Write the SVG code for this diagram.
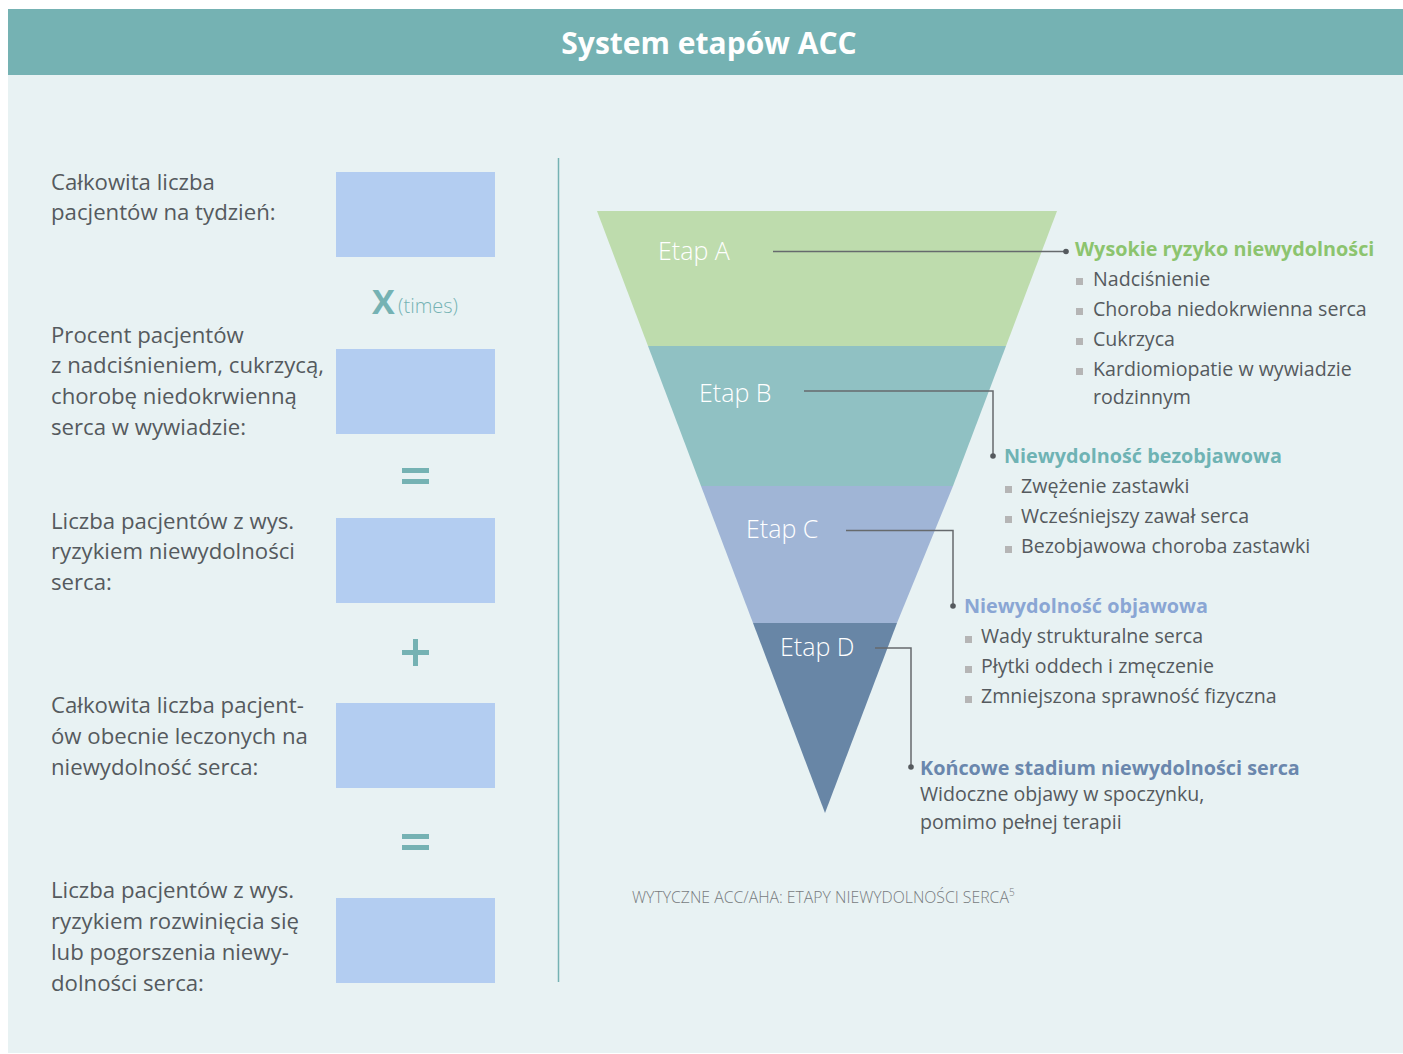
<svg xmlns="http://www.w3.org/2000/svg" width="1403" height="1054" viewBox="0 0 1403 1054">
<style>
.lt{font-family:"Open Sans","Liberation Sans",sans-serif;font-size:22.2px;fill:#555a5e}
.rt{font-family:"Open Sans","Liberation Sans",sans-serif;font-size:19.6px;fill:#555a5e}
.hd{font-family:"Open Sans","Liberation Sans",sans-serif;font-size:19.8px;font-weight:700}
.et{font-family:"Open Sans","Liberation Sans",sans-serif;font-size:25px;font-weight:300;fill:#ffffff}
.box{fill:#b3cdf1}
.op{fill:#75b2b3}
.bul{fill:#b5b5b5}
.con{fill:none;stroke:#666a6d;stroke-width:1.5}
.dot{fill:#555a5e}
</style>
<rect x="0" y="0" width="1403" height="1054" fill="#ffffff"/>
<rect x="8" y="75" width="1395" height="978" fill="#e8f2f3"/>
<rect x="8" y="9" width="1395" height="66" fill="#75b2b3"/>
<text x="709" y="54" text-anchor="middle" font-family="'Open Sans','Liberation Sans',sans-serif" font-size="30" font-weight="700" fill="#ffffff">System etapów ACC</text>

<g id="left-column">
<g id="row1"><text class="lt"><tspan x="51" y="190">Całkowita liczba</tspan><tspan x="51" y="220">pacjentów na tydzień:</tspan></text><rect class="box" x="336" y="172" width="159" height="85"/></g>
<g id="op-times"><text x="372" y="314" font-family="'Open Sans','Liberation Sans',sans-serif" font-size="34" font-weight="700" fill="#75b2b3">X</text><text x="398" y="313" font-family="'Open Sans','Liberation Sans',sans-serif" font-size="20" font-weight="300" fill="#75b2b3">(times)</text></g>
<g id="row2"><text class="lt"><tspan x="51" y="343">Procent pacjentów</tspan><tspan x="51" y="373">z nadciśnieniem, cukrzycą,</tspan><tspan x="51" y="404">chorobę niedokrwienną</tspan><tspan x="51" y="435">serca w wywiadzie:</tspan></text><rect class="box" x="336" y="349" width="159" height="85"/></g>
<g id="op-eq1"><rect class="op" x="402" y="468" width="27" height="5"/><rect class="op" x="402" y="479" width="27" height="5"/></g>
<g id="row3"><text class="lt"><tspan x="51" y="529">Liczba pacjentów z wys.</tspan><tspan x="51" y="559">ryzykiem niewydolności</tspan><tspan x="51" y="590">serca:</tspan></text><rect class="box" x="336" y="518" width="159" height="85"/></g>
<g id="op-plus"><rect class="op" x="402" y="650" width="27" height="5"/><rect class="op" x="413" y="639" width="5" height="27"/></g>
<g id="row4"><text class="lt"><tspan x="51" y="713">Całkowita liczba pacjent-</tspan><tspan x="51" y="744">ów obecnie leczonych na</tspan><tspan x="51" y="775">niewydolność serca:</tspan></text><rect class="box" x="336" y="703" width="159" height="85"/></g>
<g id="op-eq2"><rect class="op" x="402" y="834" width="27" height="5"/><rect class="op" x="402" y="845" width="27" height="5"/></g>
<g id="row5"><text class="lt"><tspan x="51" y="898">Liczba pacjentów z wys.</tspan><tspan x="51" y="929">ryzykiem rozwinięcia się</tspan><tspan x="51" y="960">lub pogorszenia niewy-</tspan><tspan x="51" y="991">dolności serca:</tspan></text><rect class="box" x="336" y="898" width="159" height="85"/></g>
</g>
<line x1="558.5" y1="158" x2="558.5" y2="982" stroke="#75b2b3" stroke-width="1.5"/>

<g id="funnel">
<g id="stage-a"><polygon points="597,211 1057,211 1006,346 648,346" fill="#bedcad"/><text class="et" x="658" y="260">Etap A</text></g>
<g id="stage-b"><polygon points="648,346 1006,346 953,486 701,486" fill="#90c1c3"/><text class="et" x="699" y="402">Etap B</text></g>
<g id="stage-c"><polygon points="701,486 953,486 897,623 753,623" fill="#a0b5d6"/><text class="et" x="746" y="538">Etap C</text></g>
<g id="stage-d"><polygon points="753,623 897,623 825,813" fill="#6886a6"/><text class="et" x="780" y="656">Etap D</text></g>
</g>

<g id="connectors">
<polyline class="con" points="773,251.5 1066,251.5"/><circle class="dot" cx="1066" cy="251.5" r="2.8"/>
<polyline class="con" points="804,391 993,391 993,456"/><circle class="dot" cx="993" cy="456" r="2.8"/>
<polyline class="con" points="846,530.5 953,530.5 953,606"/><circle class="dot" cx="953" cy="606" r="2.8"/>
<polyline class="con" points="875,648 911,648 911,767"/><circle class="dot" cx="911" cy="767" r="2.8"/>
</g>

<g id="label-a">
<text class="hd" x="1075" y="256" fill="#8cc46e">Wysokie ryzyko niewydolności</text>
<rect class="bul" x="1076" y="278" width="7" height="7"/><text class="rt" x="1093" y="286">Nadciśnienie</text>
<rect class="bul" x="1076" y="308" width="7" height="7"/><text class="rt" x="1093" y="316">Choroba niedokrwienna serca</text>
<rect class="bul" x="1076" y="338" width="7" height="7"/><text class="rt" x="1093" y="346">Cukrzyca</text>
<rect class="bul" x="1076" y="368" width="7" height="7"/><text class="rt"><tspan x="1093" y="376">Kardiomiopatie w wywiadzie</tspan><tspan x="1093" y="404">rodzinnym</tspan></text>
</g>
<g id="label-b">
<text class="hd" x="1004" y="463" fill="#6fb3b4">Niewydolność bezobjawowa</text>
<rect class="bul" x="1005" y="486" width="7" height="7"/><text class="rt" x="1021" y="493">Zwężenie zastawki</text>
<rect class="bul" x="1005" y="516" width="7" height="7"/><text class="rt" x="1021" y="523">Wcześniejszy zawał serca</text>
<rect class="bul" x="1005" y="546" width="7" height="7"/><text class="rt" x="1021" y="553">Bezobjawowa choroba zastawki</text>
</g>
<g id="label-c">
<text class="hd" x="964" y="613" fill="#8aa6d4">Niewydolność objawowa</text>
<rect class="bul" x="965" y="636" width="7" height="7"/><text class="rt" x="981" y="643">Wady strukturalne serca</text>
<rect class="bul" x="965" y="666" width="7" height="7"/><text class="rt" x="981" y="673">Płytki oddech i zmęczenie</text>
<rect class="bul" x="965" y="696" width="7" height="7"/><text class="rt" x="981" y="703">Zmniejszona sprawność fizyczna</text>
</g>
<g id="label-d">
<text class="hd" x="920" y="775" fill="#6a87ad">Końcowe stadium niewydolności serca</text>
<text class="rt"><tspan x="920" y="801">Widoczne objawy w spoczynku,</tspan><tspan x="920" y="829">pomimo pełnej terapii</tspan></text>
</g>
<text x="632" y="903" font-family="'Open Sans','Liberation Sans',sans-serif" font-size="15.8" font-weight="300" fill="#777b7e">WYTYCZNE ACC/AHA: ETAPY NIEWYDOLNOŚCI SERCA<tspan font-size="10" dy="-7">5</tspan></text>
</svg>
